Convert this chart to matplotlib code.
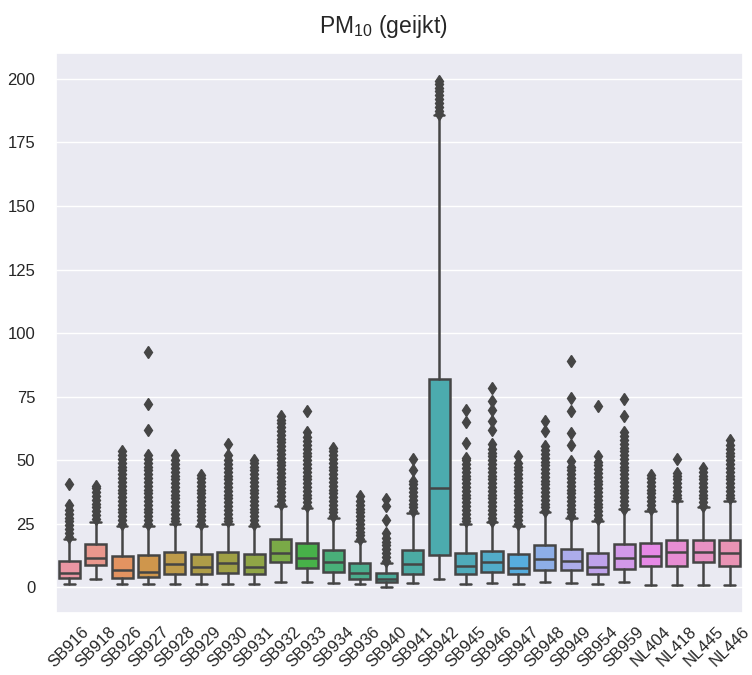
import matplotlib
matplotlib.use("Agg")
import matplotlib.pyplot as plt
import seaborn as sns
import colorsys

stations = ["SB916", "SB918", "SB926", "SB927", "SB928", "SB929", "SB930", "SB931",
            "SB932", "SB933", "SB934", "SB936", "SB940", "SB941", "SB942", "SB945",
            "SB946", "SB947", "SB948", "SB949", "SB954", "SB959", "NL404", "NL418",
            "NL445", "NL446"]

whis_low = [1.2, 3.4, 1.2, 1.2, 1.2, 1.2, 1.2, 1.2, 2.1, 2.1, 1.8, 1.2, 0.3,
            1.8, 3.5, 1.4, 1.6, 1.2, 2.2, 1.8, 1.2, 2.2, 0.9, 0.9, 0.9, 0.9]
q1 = [3.8, 8.9, 3.8, 4.2, 5.4, 5.1, 5.8, 5.1, 10.1, 7.5, 6.2, 3.4, 2.2,
      5.1, 12.6, 5.1, 6.2, 5.1, 6.8, 6.8, 5.1, 7.3, 8.6, 8.6, 10.0, 8.6]
median = [5.8, 11.4, 6.8, 6.2, 9.3, 8.0, 9.7, 8.0, 13.4, 11.4, 10.0, 5.8, 3.5,
          9.4, 39.2, 8.6, 10.0, 7.7, 11.0, 10.4, 8.0, 11.7, 12.3, 13.9, 13.9, 13.6]
q3 = [10.3, 16.9, 12.3, 12.7, 13.9, 13.0, 14.0, 13.0, 18.9, 17.5, 14.9, 9.7, 5.5,
      14.9, 82.1, 13.4, 14.3, 13.0, 16.5, 15.2, 13.6, 17.2, 17.5, 18.6, 18.6, 18.6]
whis_high = [19.2, 25.7, 24.1, 24.1, 25.1, 24.1, 25.1, 24.1, 31.9, 31.3, 27.4, 18.2, 9.7,
             29.3, 185.6, 25.1, 25.7, 24.1, 29.6, 27.4, 26.1, 30.9, 30.0, 33.9, 31.7, 33.9]

outliers = [
    [20, 21.5, 23, 24.5, 26, 27.5, 29, 30.5, 32.5, 40.7],
    [27, 28.5, 30, 31.5, 33, 34.5, 36, 37.5, 39, 40],
    [25, 26.5, 28, 29.5, 31, 32.5, 34, 35.5, 37, 38.5, 40, 41.5, 43, 44.5, 46, 47.5, 49, 50.5, 52, 53.6],
    [25, 26.5, 28, 29.5, 31, 32.5, 34, 35.5, 37, 38.5, 40, 41.5, 43, 44.5, 46, 47.5, 49, 50.5, 52, 62, 72.2, 92.7],
    [26, 27.5, 29, 30.5, 32, 33.5, 35, 36.5, 38, 39.5, 41, 42.5, 44, 45.5, 47, 48.5, 50, 51.9],
    [25, 26.5, 28, 29.5, 31, 32.5, 34, 35.5, 37, 38.5, 40, 41.5, 43, 44.4],
    [26, 27.5, 29, 30.5, 32, 33.5, 35, 36.5, 38, 39.5, 41, 42.5, 44, 45.5, 47, 48.5, 50, 52, 56.5],
    [25, 26.5, 28, 29.5, 31, 32.5, 34, 35.5, 37, 38.5, 40, 41.5, 43, 44.5, 46, 47.5, 49, 50.3],
    [33, 34.5, 36, 37.5, 39, 40.5, 42, 43.5, 45, 46.5, 48, 49.5, 51, 52.5, 54, 55.5, 57, 58.5, 60, 61.5, 63, 64.5, 66, 67.5],
    [32, 33.5, 35, 36.5, 38, 39.5, 41, 42.5, 44, 45.5, 47, 48.5, 50, 51.5, 53, 54.5, 56, 57.5, 59, 61, 69.3],
    [28, 29.5, 31, 32.5, 34, 35.5, 37, 38.5, 40, 41.5, 43, 44.5, 46, 47.5, 49, 50.5, 52, 53.5, 55],
    [19, 20.5, 22, 23.5, 25, 26.5, 28, 29.5, 31, 32.5, 34, 35.8],
    [10.5, 12, 13.5, 15, 16.5, 18, 19.5, 21.5, 26.7, 31.9, 34.8],
    [30, 31.5, 33, 34.5, 36, 37.5, 39, 40.5, 42, 46.1, 50.7],
    [186, 187.5, 189, 190.5, 192, 193.5, 195, 196.5, 198, 199.2],
    [26, 27.5, 29, 30.5, 32, 33.5, 35, 36.5, 38, 39.5, 41, 42.5, 44, 45.5, 47, 48.5, 50, 51, 56.8, 65, 69.9],
    [26, 27.5, 29, 30.5, 32, 33.5, 35, 36.5, 38, 39.5, 41, 42.5, 44, 45.5, 47, 48.5, 50, 51.5, 53, 54.5, 56.5, 62, 65.3, 69.9, 73.2, 78.5],
    [25, 26.5, 28, 29.5, 31, 32.5, 34, 35.5, 37, 38.5, 40, 41.5, 43, 44.5, 46, 47.5, 49, 51.5],
    [30, 31.5, 33, 34.5, 36, 37.5, 39, 40.5, 42, 43.5, 45, 46.5, 48, 49.5, 51, 52.5, 54, 55.5, 61.4, 65.5],
    [28, 29.5, 31, 32.5, 34, 35.5, 37, 38.5, 40, 41.5, 43, 44.5, 46, 47.5, 49.6, 56.2, 60.8, 69.3, 74.4, 89.2],
    [27, 28.5, 30, 31.5, 33, 34.5, 36, 37.5, 39, 40.5, 42, 43.5, 45, 46.5, 48, 49.5, 51.5, 71.5],
    [31, 32.5, 34, 35.5, 37, 38.5, 40, 41.5, 43, 44.5, 46, 47.5, 49, 50.5, 52, 53.5, 55, 56.5, 58, 59.5, 61, 67.3, 74.1],
    [31, 32.5, 34, 35.5, 37, 38.5, 40, 41.5, 43, 44.2],
    [35, 36.5, 38, 39.5, 41, 42.5, 44, 45.1, 50.5],
    [32, 33.5, 35, 36.5, 38, 39.5, 41, 42.5, 44, 45.5, 47],
    [35, 36.5, 38, 39.5, 41, 42.5, 44, 45.5, 47, 48.5, 50, 51.5, 53, 54.5, 56, 57.8],
]

title = r"PM$_{\mathregular{10}}$ (geijkt)"

sns.set_theme(style="darkgrid")
plt.rcParams["font.family"] = ["Liberation Sans", "DejaVu Sans"]

pal = sns.husl_palette(len(stations), l=.7)
colors = [sns.desaturate(c, .75) for c in pal]
lum = min(colorsys.rgb_to_hls(*c)[1] for c in colors) * .6
gray = (lum, lum, lum)

fig = plt.figure(figsize=(7.52, 6.75), dpi=100)
ax = fig.add_axes([0.0745, 0.092, 0.9135, 0.829])

stats = []
for i, s in enumerate(stations):
    stats.append(dict(label=s, med=median[i], q1=q1[i], q3=q3[i],
                      whislo=whis_low[i], whishi=whis_high[i], fliers=outliers[i]))

lw = 1.8
positions = list(range(len(stations)))
bp = ax.bxp(stats, positions=positions, widths=0.8, patch_artist=True,
            showfliers=True,
            boxprops=dict(edgecolor=gray, linewidth=lw),
            medianprops=dict(color=gray, linewidth=lw),
            whiskerprops=dict(color=gray, linewidth=lw),
            capprops=dict(color=gray, linewidth=lw),
            flierprops=dict(marker="d", markerfacecolor=gray, markeredgecolor=gray,
                            markersize=6.5, linestyle="none"))
for patch, c in zip(bp["boxes"], colors):
    patch.set_facecolor(c)
    patch.set_zorder(2)

ax.set_xlim(-0.5, len(stations) - 0.5)
ax.set_ylim(-10, 210)
ax.set_yticks([0, 25, 50, 75, 100, 125, 150, 175, 200])
ax.set_xticks(positions)
ax.set_xticklabels(stations, rotation=45, fontsize=12)
ax.tick_params(axis="y", labelsize=12, pad=9)
ax.tick_params(axis="x", pad=2)
ax.xaxis.grid(False)
fig.text(0.509, 0.951, title, fontsize=16.5, ha="center", va="baseline",
         color=plt.rcParams["text.color"])

fig.savefig("out.png", dpi=100)
